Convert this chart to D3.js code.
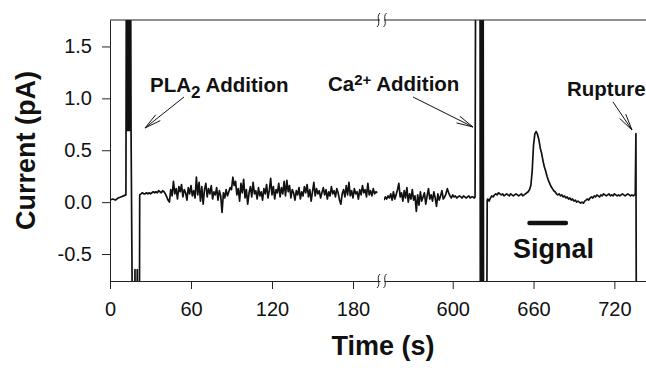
<!DOCTYPE html>
<html>
<head>
<meta charset="utf-8">
<script src="https://cdn.jsdelivr.net/npm/d3@7"></script>
<style>
  body { margin: 0; background: #fff; }
  svg { display: block; font-family: "Liberation Sans", Arial, Helvetica, sans-serif; }
</style>
</head>
<body>
<div id="chart"></div>
<script>
// tick labels
const yTicks = [-0.5, 0, 0.5, 1.0, 1.5];
const xTicksA = [0, 60, 120, 180];
const xTicksB = [600, 660, 720];

// first part of the record (time s, current pA), up to the PLA2 artefact
const traceStart = [
  [0, 0.02], [2, 0.03], [4, 0.02], [6, 0.04], [8, 0.05], [10, 0.06], [11.8, 0.07],
  [12.1, 2.2], [12.5, 0.69], [12.9, 2.2], [13.3, 0.69], [13.7, 2.2], [14.1, 0.69],
  [14.5, 2.2], [14.9, 0.69], [15.3, 2.2], [15.6, 0.69], [16.6, -1.2],
  [18.3, -1.2], [18.5, -0.65], [18.7, -1.2], [20.0, -1.2], [20.2, -0.65], [20.4, -1.2],
  [21.8, -1.2]
];
// sampled every second from t = 22 s to 198 s
const partA_t0 = 22;
const partA = [
  0.07, 0.08, 0.09, 0.08, 0.08, 0.09, 0.08, 0.09, 0.08, 0.09, 0.10, 0.09, 0.10, 0.09, 0.11,
  0.10, 0.09, 0.11, 0.10, 0.08, 0.05, 0.02, 0.00,
  0.12, 0.06, 0.20, 0.08, 0.13, 0.03, 0.15, 0.10, 0.17, 0.05, 0.12, 0.09, 0.02, 0.14, 0.08,
  0.16, 0.06, 0.11, 0.04, 0.24, 0.07, 0.19, 0.01, 0.15, -0.02, 0.12, 0.18, 0.05, 0.13, 0.08,
  0.16, 0.03, 0.10, 0.07, 0.14, 0.02, 0.11, 0.06, -0.10, 0.09, 0.04, 0.12, 0.06, 0.10, 0.14,
  0.12, 0.24, 0.16, 0.20, 0.07, 0.13, 0.01, 0.18, 0.09, 0.22, 0.04, 0.12, -0.02, 0.09, 0.15,
  0.05, 0.19, 0.08, 0.11, 0.03, 0.14, 0.06, 0.10, 0.02, 0.13, 0.08, 0.17, 0.04, 0.11, 0.23,
  0.07, 0.15, 0.03, 0.12, 0.09, 0.18, 0.05, 0.14, 0.08, 0.20, 0.06, 0.21, 0.10, 0.16, 0.04,
  0.12, 0.09, 0.02, 0.11, 0.07, 0.14, 0.03, 0.10, 0.06, 0.15, 0.09, 0.17, 0.05, 0.12, 0.01,
  0.10, 0.19, 0.06, 0.13, 0.08, 0.11, 0.04, 0.09, 0.14, 0.07, 0.12, 0.03, 0.10, 0.06, 0.15,
  0.08, 0.11, 0.05, 0.13, 0.09, 0.02, -0.02, 0.08, 0.12, 0.05, 0.16, 0.07, 0.19, 0.06, 0.11,
  0.04, 0.13, 0.08, 0.10, 0.03, 0.12, 0.07, 0.16, 0.09, 0.12, 0.05, 0.18, 0.07, 0.11, 0.06,
  0.13, 0.08, 0.10, 0.09
];

// second part, sampled every second from t = 549 s to 616 s
const partB_t0 = 549;
const partB = [
  0.02, 0.05, 0.03, 0.06, 0.04, 0.08, 0.02, 0.10, 0.03, 0.07, 0.12, 0.18, 0.05, 0.09, 0.01,
  0.11, 0.04, 0.14, 0.00, 0.08, 0.03, 0.12, 0.02, 0.06, -0.09, 0.07, -0.03, 0.10, 0.01, 0.05,
  0.09, -0.02, 0.06, 0.13, 0.03, 0.07, 0.01, 0.10, 0.04, -0.04, 0.08, 0.02, 0.06, 0.11, 0.03,
  0.05, 0.08, 0.13, 0.09, 0.06, 0.04, 0.07, 0.05, 0.06, 0.04, 0.05, 0.06, 0.05, 0.04, 0.06,
  0.05, 0.04, 0.05, 0.06, 0.04, 0.05, 0.05, 0.04
];
// Ca2+ addition artefact
const caSpike = [
  [616.6, 0.05], [617.0, 2.2], [620.3, 2.2], [620.5, -1.2], [620.8, 2.2], [621.1, -1.2],
  [621.4, 2.2], [621.7, -1.2], [622.0, 2.2], [622.3, -1.2], [622.6, 2.2], [622.9, -1.2],
  [625.3, -1.2], [625.6, 0.02]
];
// after Ca2+, sampled every second from t = 626 s to 735 s
const partC_t0 = 626;
const partC = [
  0.03, 0.01, 0.04, 0.06, 0.05, 0.07, 0.08, 0.07, 0.09, 0.08, 0.07, 0.08, 0.06, 0.07, 0.08,
  0.07, 0.06, 0.08, 0.07, 0.06, 0.07, 0.08, 0.07, 0.06, 0.07, 0.08, 0.06, 0.07, 0.08, 0.09,
  0.10, 0.12, 0.16, 0.30, 0.55, 0.66, 0.68, 0.65, 0.60, 0.52, 0.47, 0.40, 0.34, 0.30, 0.25,
  0.21, 0.18, 0.15, 0.13, 0.11, 0.10, 0.08, 0.07, 0.08, 0.06, 0.07, 0.05, 0.06, 0.04, 0.05,
  0.03, 0.04, 0.02, 0.03, 0.01, 0.02, 0.00, 0.01, 0.00, -0.01, 0.00, -0.01, 0.01, 0.02, 0.03,
  0.02, 0.04, 0.05, 0.04, 0.06, 0.05, 0.07, 0.06, 0.05, 0.07, 0.06, 0.08, 0.07, 0.06, 0.07,
  0.08, 0.06, 0.07, 0.06, 0.08, 0.07, 0.06, 0.07, 0.06, 0.07, 0.08, 0.07, 0.06, 0.07, 0.08,
  0.07, 0.06, 0.07, 0.06, 0.07
];
// membrane rupture
const rupture = [[735.5, 0.07], [736.0, 0.66], [736.3, -1.2]];
// bar marking the signal
const signalBar = [[657, -0.2], [684, -0.2]];

const width = 646, height = 368;
const plotTop = 20, plotBottom = 281, plotLeft = 110;

const svg = d3.select("#chart")
  .append("svg")
  .attr("width", width)
  .attr("height", height);

const y = d3.scaleLinear().domain([-0.76, 1.755]).range([plotBottom, plotTop]);
const xA = d3.scaleLinear().domain([0, 200]).range([plotLeft, 380]);
const xB = d3.scaleLinear().domain([549, 744]).range([384, 646.7]);

const regular = (t0, vals) => vals.map((v, i) => [t0 + i, v]);

const seriesA = traceStart.concat(regular(partA_t0, partA));
const seriesB = regular(partB_t0, partB)
  .concat(caSpike, regular(partC_t0, partC), rupture);

// clip regions for the two halves of the broken axis
const defs = svg.append("defs");
defs.append("clipPath").attr("id", "clipA")
  .append("rect").attr("x", plotLeft).attr("y", plotTop)
  .attr("width", 380 - plotLeft).attr("height", plotBottom - plotTop);
defs.append("clipPath").attr("id", "clipB")
  .append("rect").attr("x", 384).attr("y", plotTop)
  .attr("width", width - 384).attr("height", plotBottom - plotTop);

const lineA = d3.line().x(d => xA(d[0])).y(d => y(d[1]));
const lineB = d3.line().x(d => xB(d[0])).y(d => y(d[1]));

svg.append("path")
  .attr("clip-path", "url(#clipA)")
  .attr("d", lineA(seriesA))
  .attr("fill", "none")
  .attr("stroke", "#111")
  .attr("stroke-width", 1.7)
  .attr("stroke-linejoin", "round");

svg.append("path")
  .attr("clip-path", "url(#clipB)")
  .attr("d", lineB(seriesB))
  .attr("fill", "none")
  .attr("stroke", "#111")
  .attr("stroke-width", 1.7)
  .attr("stroke-linejoin", "round");

svg.append("path")
  .attr("d", lineB(signalBar))
  .attr("stroke", "#111")
  .attr("stroke-width", 4.5)
  .attr("stroke-linecap", "round");

// axes
const yAxis = svg.append("g")
  .attr("transform", `translate(${plotLeft},0)`)
  .call(d3.axisLeft(y).tickValues(yTicks).tickSize(8).tickSizeOuter(0)
    .tickPadding(10).tickFormat(d => d.toFixed(1)));

const xAxisA = svg.append("g")
  .attr("transform", `translate(0,${plotBottom})`)
  .call(d3.axisBottom(xA).tickValues(xTicksA).tickSize(8).tickSizeOuter(0).tickPadding(13));
const xAxisB = svg.append("g")
  .attr("transform", `translate(0,${plotBottom})`)
  .call(d3.axisBottom(xB).tickValues(xTicksB).tickSize(8).tickSizeOuter(0).tickPadding(13));

[yAxis, xAxisA, xAxisB].forEach(g => {
  g.selectAll("path.domain").attr("stroke", "#222");
  g.selectAll(".tick line").attr("stroke", "#222");
  g.selectAll(".tick text")
    .attr("font-size", 20)
    .attr("fill", "#111")
    .attr("font-family", "Liberation Sans, Arial, sans-serif");
});

// top frame line, also broken
svg.append("line").attr("x1", plotLeft).attr("x2", 380).attr("y1", plotTop).attr("y2", plotTop)
  .attr("stroke", "#222");
svg.append("line").attr("x1", 384).attr("x2", width).attr("y1", plotTop).attr("y2", plotTop)
  .attr("stroke", "#222");

// axis break marks
[plotTop, plotBottom].forEach(yy => {
  [378.5, 385].forEach(xx => {
    svg.append("path")
      .attr("d", `M${xx + 1.5},${yy - 7} C${xx - 3},${yy - 3} ${xx + 3},${yy + 3} ${xx - 1.5},${yy + 7}`)
      .attr("fill", "none")
      .attr("stroke", "#222")
      .attr("stroke-width", 1);
  });
});

// axis titles
svg.append("text")
  .attr("transform", `translate(35,${(plotTop + plotBottom) / 2}) rotate(-90)`)
  .attr("text-anchor", "middle")
  .attr("font-size", 27)
  .attr("font-weight", "bold")
  .attr("fill", "#111")
  .text("Current (pA)");

svg.append("text")
  .attr("x", 383)
  .attr("y", 355)
  .attr("text-anchor", "middle")
  .attr("font-size", 27)
  .attr("font-weight", "bold")
  .attr("fill", "#111")
  .text("Time (s)");

// annotations
const pla = svg.append("text").attr("x", 150).attr("y", 91.5)
  .attr("font-size", 20.5).attr("font-weight", "bold").attr("fill", "#111");
pla.append("tspan").text("PLA");
pla.append("tspan").attr("dy", 6).attr("font-size", 17).text("2");
pla.append("tspan").attr("dy", -6).text(" Addition");

const ca = svg.append("text").attr("x", 328).attr("y", 91)
  .attr("font-size", 20.5).attr("font-weight", "bold").attr("fill", "#111");
ca.append("tspan").text("Ca");
ca.append("tspan").attr("dy", -6).attr("font-size", 15).text("2+");
ca.append("tspan").attr("dy", 6).text(" Addition");

svg.append("text").attr("x", 567).attr("y", 95.5)
  .attr("font-size", 20.5).attr("font-weight", "bold").attr("fill", "#111")
  .text("Rupture");

svg.append("text").attr("x", 513).attr("y", 258)
  .attr("font-size", 27).attr("font-weight", "bold").attr("fill", "#111")
  .text("Signal");

const arrows = [
  [[184, 97], [145, 128]],
  [[413, 97], [473, 127]],
  [[613, 102], [632, 130]]
];
arrows.forEach(([s, e]) => {
  const a = Math.atan2(s[1] - e[1], s[0] - e[0]);
  const len = 17;
  const g = svg.append("g").attr("stroke", "#111").attr("stroke-width", 1).attr("fill", "none");
  g.append("line").attr("x1", s[0]).attr("y1", s[1]).attr("x2", e[0]).attr("y2", e[1]);
  [-0.22, 0.22].forEach(da => {
    g.append("line")
      .attr("x1", e[0]).attr("y1", e[1])
      .attr("x2", e[0] + len * Math.cos(a + da))
      .attr("y2", e[1] + len * Math.sin(a + da));
  });
});
</script>
</body>
</html>
